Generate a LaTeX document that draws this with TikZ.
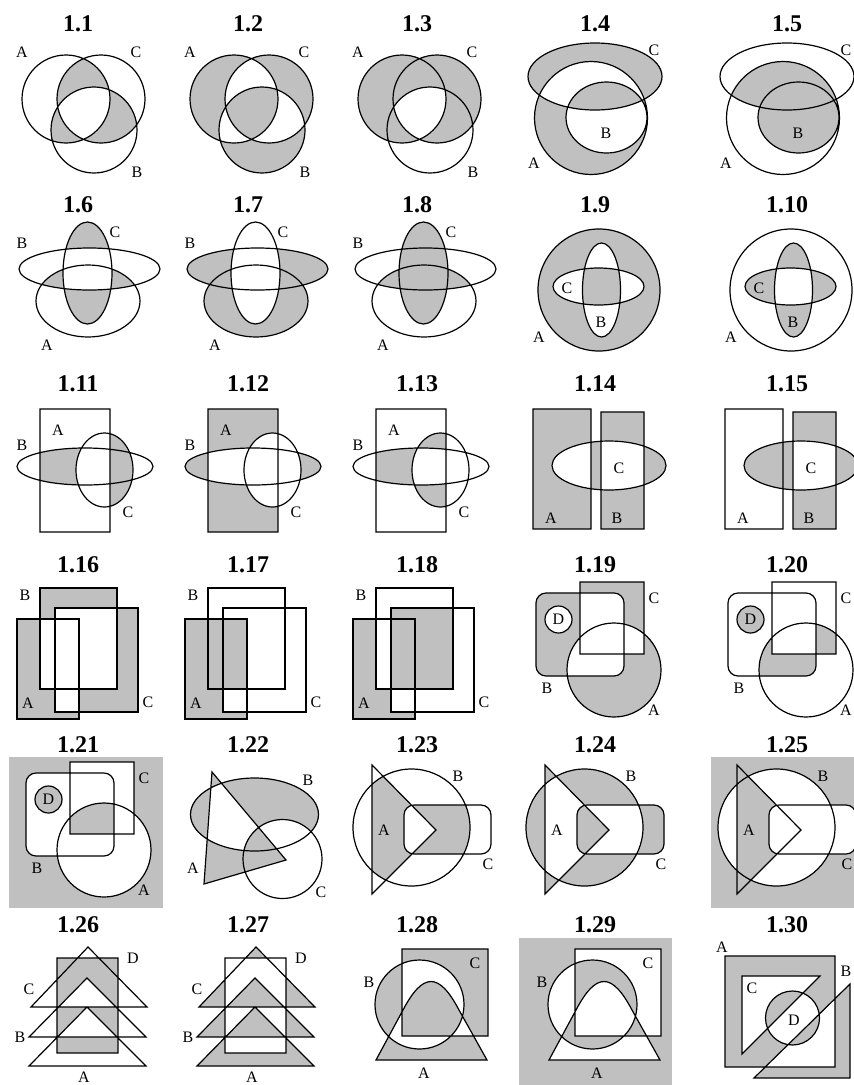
\documentclass[tikz,border=0pt]{standalone}
\usepackage{fontspec}
\setmainfont{Liberation Serif}
\usepackage{tikz}
\definecolor{silver}{RGB}{192,192,192}
% fill the common part of two (or three) shapes
\newcommand{\pairfill}[3]{\begin{scope}\clip #1;\fill[#3] #2;\end{scope}}
\newcommand{\triofill}[4]{\begin{scope}\clip #1;\clip #2;\fill[#4] #3;\end{scope}}

\begin{document}
\begin{tikzpicture}[x=1pt,y=-1pt,
    venn/.style={draw,line width=1.2pt},
    shade/.style={fill=silver},
    blank/.style={fill=white},
    lbl/.style={font=\fontsize{16}{16}\selectfont,inner sep=0pt},
    ttl/.style={font=\fontsize{24}{24}\selectfont\bfseries,anchor=base,inner sep=0pt}]
  \useasboundingbox (0,0) rectangle (854,1085);
  \fill[white] (0,0) rectangle (854,1085);
  % shaded universes
  \fill[shade] (9,757) rectangle (163,908);
  \fill[shade] (711,757) rectangle (860,908);
  \fill[shade] (519,938) rectangle (672,1085);

  % titles
  \foreach \y [count=\r from 0] in {31,212,391,572,752,932}
    \foreach \x [count=\c] in {78,248,417,595,787}{
      \pgfmathtruncatemacro\n{5*\r+\c}
      \node[ttl] (t\n) at (\x,\y) {1.\n};
    }

  % row 1: 1.1 - 1.3
  \begin{scope}
    \def\sA{(66,99) circle[radius=44pt]}
    \def\sC{(101,99) circle[radius=44pt]}
    \def\sB{(94,130) circle[radius=43pt]}
    \pairfill{\sA}{\sC}{shade}
    \pairfill{\sA}{\sB}{shade}
    \pairfill{\sB}{\sC}{shade}
    \triofill{\sA}{\sB}{\sC}{blank}
    \draw[venn] \sA \sB \sC;
    \node[lbl] (a1) at (22,52) {A};
    \node[lbl] (c1) at (136,52) {C};
    \node[lbl] (b1) at (137,172) {B};
    \begin{scope}[xshift=168]
      \fill[shade,even odd rule] \sA \sB \sC;
      \draw[venn] \sA \sB \sC;
      \node[lbl] (a2) at (22,52) {A};
      \node[lbl] (c2) at (136,52) {C};
      \node[lbl] (b2) at (137,172) {B};
    \end{scope}
    \begin{scope}[xshift=336]
      \fill[shade] \sA; \fill[shade] \sC;
      \triofill{\sA}{\sB}{\sC}{blank}
      \draw[venn] \sA \sB \sC;
      \node[lbl] (a3) at (22,52) {A};
      \node[lbl] (c3) at (136,52) {C};
      \node[lbl] (b3) at (137,172) {B};
    \end{scope}
  \end{scope}

  % row 1: 1.4 - 1.5
  \begin{scope}
    \def\sC{(595,76.5) ellipse[x radius=67pt,y radius=33.5pt]}
    \def\sA{(591,118) circle[radius=56.5pt]}
    \def\sB{(606.5,117.5) ellipse[x radius=40.5pt,y radius=35.5pt]}
    \fill[shade,even odd rule] \sA \sB \sC;
    \draw[venn] \sA \sB \sC;
    \node[lbl] (c4) at (654,50) {C};
    \node[lbl] (b4) at (606,133) {B};
    \node[lbl] (a4) at (534,163) {A};
    \begin{scope}[xshift=192]
      \pairfill{\sA}{\sC}{shade}
      \fill[shade] \sB;
      \draw[venn] \sA \sB \sC;
      \node[lbl] (c5) at (654,50) {C};
      \node[lbl] (b5) at (606,133) {B};
      \node[lbl] (a5) at (534,163) {A};
    \end{scope}
  \end{scope}

  % row 2: 1.6 - 1.8
  \begin{scope}
    \def\sB{(89.5,269) ellipse[x radius=70.5pt,y radius=21pt]}
    \def\sC{(87.5,273) ellipse[x radius=24.5pt,y radius=51pt]}
    \def\sA{(88,301) ellipse[x radius=52pt,y radius=36pt]}
    \fill[shade] \sC;
    \pairfill{\sA}{\sB}{shade}
    \pairfill{\sB}{\sC}{blank}
    \draw[venn] \sA \sB \sC;
    \node[lbl] (b6) at (22,243) {B};
    \node[lbl] (c6) at (115,232) {C};
    \node[lbl] (a6) at (47,345) {A};
    \begin{scope}[xshift=168]
      \fill[shade] \sA; \fill[shade] \sB;
      \fill[blank] \sC;
      \draw[venn] \sA \sB \sC;
      \node[lbl] (b7) at (22,243) {B};
      \node[lbl] (c7) at (115,232) {C};
      \node[lbl] (a7) at (47,345) {A};
    \end{scope}
    \begin{scope}[xshift=336]
      \fill[shade] \sC;
      \pairfill{\sA}{\sB}{shade}
      \draw[venn] \sA \sB \sC;
      \node[lbl] (b8) at (22,243) {B};
      \node[lbl] (c8) at (115,232) {C};
      \node[lbl] (a8) at (47,345) {A};
    \end{scope}
  \end{scope}

  % row 2: 1.9 - 1.10
  \begin{scope}
    \def\sA{(599,290) circle[radius=61pt]}
    \def\sC{(598.5,286.5) ellipse[x radius=45.5pt,y radius=18.5pt]}
    \def\sB{(601.5,290) ellipse[x radius=19pt,y radius=47pt]}
    \fill[shade,even odd rule] \sA \sB \sC;
    \draw[venn] \sA \sB \sC;
    \node[lbl] (c9) at (567,288) {C};
    \node[lbl] (b9) at (601,322) {B};
    \node[lbl] (a9) at (539,337) {A};
    \begin{scope}[xshift=192]
      \fill[shade,even odd rule] \sB \sC;
      \draw[venn] \sA \sB \sC;
      \node[lbl] (c10) at (567,288) {C};
      \node[lbl] (b10) at (601,322) {B};
      \node[lbl] (a10) at (539,337) {A};
    \end{scope}
  \end{scope}

  % row 3: 1.11 - 1.13
  \begin{scope}
    \def\sA{(40,409) rectangle (110,532)}
    \def\sB{(85,466.5) ellipse[x radius=68pt,y radius=18.5pt]}
    \def\sC{(104.5,470) ellipse[x radius=28.5pt,y radius=37pt]}
    \fill[shade] \sC;
    \pairfill{\sA}{\sB}{shade}
    \pairfill{\sA}{\sC}{blank}
    \draw[venn] \sA \sB \sC;
    \node[lbl] (a11) at (58,430) {A};
    \node[lbl] (b11) at (22,445) {B};
    \node[lbl] (c11) at (128,512) {C};
    \begin{scope}[xshift=168]
      \fill[shade] \sA; \fill[shade] \sB;
      \pairfill{\sA}{\sB}{blank}
      \fill[blank] \sC;
      \draw[venn] \sA \sB \sC;
      \node[lbl] (a12) at (58,430) {A};
      \node[lbl] (b12) at (22,445) {B};
      \node[lbl] (c12) at (128,512) {C};
    \end{scope}
    \begin{scope}[xshift=336]
      \begin{scope}
        \clip \sA;
        \fill[shade,even odd rule] \sB \sC;
      \end{scope}
      \draw[venn] \sA \sB \sC;
      \node[lbl] (a13) at (58,430) {A};
      \node[lbl] (b13) at (22,445) {B};
      \node[lbl] (c13) at (128,512) {C};
    \end{scope}
  \end{scope}

  % row 3: 1.14 - 1.15
  \begin{scope}
    \def\sA{(533,409) rectangle (591,529)}
    \def\sB{(601,412) rectangle (644,529)}
    \def\sC{(609,465.5) ellipse[x radius=57pt,y radius=24.5pt]}
    \fill[shade,even odd rule] \sA \sB \sC;
    \draw[venn] \sA \sB \sC;
    \node[lbl] (a14) at (551,518) {A};
    \node[lbl] (b14) at (617,518) {B};
    \node[lbl] (c14) at (619,468) {C};
    \begin{scope}[xshift=192]
      \fill[shade,even odd rule] \sB \sC;
      \draw[venn] \sA \sB \sC;
      \node[lbl] (a15) at (551,518) {A};
      \node[lbl] (b15) at (617,518) {B};
      \node[lbl] (c15) at (619,468) {C};
    \end{scope}
  \end{scope}

  % row 4: 1.16 - 1.18
  \begin{scope}
    \def\sB{(40,588) rectangle (117,689)}
    \def\sC{(55,608) rectangle (138,712)}
    \def\sA{(17,619) rectangle (79,719)}
    \fill[shade] \sA; \fill[shade] \sB; \fill[shade] \sC;
    \pairfill{\sA}{\sB}{blank}
    \pairfill{\sA}{\sC}{blank}
    \pairfill{\sB}{\sC}{blank}
    \draw[venn] \sA \sB \sC;
    \node[lbl] (b16) at (25,595) {B};
    \node[lbl] (a16) at (28,703) {A};
    \node[lbl] (c16) at (148,702) {C};
    \begin{scope}[xshift=168]
      \fill[shade] \sA;
      \pairfill{\sA}{\sC}{blank}
      \triofill{\sA}{\sB}{\sC}{shade}
      \draw[venn] \sA \sB \sC;
      \node[lbl] (b17) at (25,595) {B};
      \node[lbl] (a17) at (28,703) {A};
      \node[lbl] (c17) at (148,702) {C};
    \end{scope}
    \begin{scope}[xshift=336]
      \fill[shade] \sA;
      \pairfill{\sA}{\sB}{blank}
      \pairfill{\sA}{\sC}{blank}
      \pairfill{\sB}{\sC}{shade}
      \draw[venn] \sA \sB \sC;
      \node[lbl] (b18) at (25,595) {B};
      \node[lbl] (a18) at (28,703) {A};
      \node[lbl] (c18) at (148,702) {C};
    \end{scope}
  \end{scope}

  % 1.19 - 1.21
  \begin{scope}
    \def\sB{{[rounded corners=10pt] (536,593) rectangle (624,676)}}
    \def\sC{(580,582) rectangle (644,654)}
    \def\sA{(614,670) circle[radius=47pt]}
    \def\sD{(558.5,619.5) circle[radius=13.5pt]}
    \fill[shade] \sA; \fill[shade] \sB; \fill[shade] \sC;
    \pairfill{\sA}{\sB}{blank}
    \pairfill{\sA}{\sC}{blank}
    \pairfill{\sB}{\sC}{blank}
    \fill[blank] \sD;
    \draw[venn] \sA \sC \sD \sB;
    \node[lbl] (c19) at (654,598) {C};
    \node[lbl] (b19) at (547,688) {B};
    \node[lbl] (a19) at (654,710) {A};
    \node[lbl] (d19) at (558.5,619.5) {D};
    \begin{scope}[xshift=192]
      \fill[shade] \sD;
      \begin{scope}
        \clip \sA;
        \fill[shade,even odd rule] \sB \sC;
      \end{scope}
      \draw[venn] \sA \sC \sD \sB;
      \node[lbl] (c20) at (654,598) {C};
      \node[lbl] (b20) at (547,688) {B};
      \node[lbl] (a20) at (654,710) {A};
      \node[lbl] (d20) at (558.5,619.5) {D};
    \end{scope}
    \begin{scope}[shift={(-510,180)}]
      \fill[blank] \sA; \fill[blank] \sB; \fill[blank] \sC;
      \triofill{\sA}{\sB}{\sC}{shade}
      \fill[shade] \sD;
      \draw[venn] \sA \sC \sD \sB;
      \node[lbl] (c21) at (654,598) {C};
      \node[lbl] (b21) at (547,688) {B};
      \node[lbl] (a21) at (654,710) {A};
      \node[lbl] (d21) at (558.5,619.5) {D};
    \end{scope}
  \end{scope}

  % 1.22
  \begin{scope}
    \def\sB{(254.5,814.5) ellipse[x radius=64pt,y radius=36.5pt]}
    \def\sA{(212,772) -- (204,884) -- (286,860) -- cycle}
    \def\sC{(282.5,859) circle[radius=39.5pt]}
    \fill[shade] \sA; \fill[shade] \sB;
    \pairfill{\sA}{\sB}{blank}
    \pairfill{\sB}{\sC}{blank}
    \triofill{\sA}{\sB}{\sC}{shade}
    \draw[venn] \sA \sB \sC;
    \node[lbl] (b22) at (308,780) {B};
    \node[lbl] (a22) at (193,868) {A};
    \node[lbl] (c22) at (321,892) {C};
  \end{scope}

  % 1.23 - 1.25
  \begin{scope}
    \def\sA{(545,765) -- (545,894) -- (609,830) -- cycle}
    \def\sB{(584.5,827.5) circle[radius=58.5pt]}
    \def\sC{{[rounded corners=10pt] (577,805) rectangle (664,854)}}
    \fill[shade,even odd rule] \sA \sB \sC;
    \draw[venn] \sA \sB \sC;
    \node[lbl] (b24) at (631,776) {B};
    \node[lbl] (a24) at (557,830) {A};
    \node[lbl] (c24) at (661,864) {C};
    \begin{scope}[xshift=-173]
      \begin{scope}
        \clip \sB;
        \fill[shade,even odd rule] \sA \sC;
      \end{scope}
      \draw[venn] \sA \sB \sC;
      \node[lbl] (b23) at (631,776) {B};
      \node[lbl] (a23) at (557,830) {A};
      \node[lbl] (c23) at (661,864) {C};
    \end{scope}
    \begin{scope}[xshift=192]
      \fill[blank] \sB;
      \fill[shade] \sA;
      \fill[blank] \sC;
      \draw[venn] \sA \sB \sC;
      \node[lbl] (b25) at (631,776) {B};
      \node[lbl] (a25) at (557,830) {A};
      \node[lbl] (c25) at (655,864) {C};
    \end{scope}
  \end{scope}

  % row 6: 1.26 - 1.27
  \begin{scope}
    \def\sD{(57,958) rectangle (118,1053)}
    \def\sC{(88,947) -- (31,1007) -- (147,1007) -- cycle}
    \def\sB{(87,978) -- (29,1037) -- (146,1037) -- cycle}
    \def\sA{(87,1007) -- (29,1066) -- (146,1066) -- cycle}
    \fill[shade] \sD;
    \pairfill{\sA}{\sB}{blank}
    \pairfill{\sB}{\sC}{blank}
    \draw[venn] \sA \sB \sC \sD;
    \node[lbl] (d26) at (133,958) {D};
    \node[lbl] (c26) at (29,989) {C};
    \node[lbl] (b26) at (20,1037) {B};
    \node[lbl] (a26) at (84,1077) {A};
    \begin{scope}[xshift=168]
      \fill[shade] \sA; \fill[shade] \sB; \fill[shade] \sC;
      \fill[blank] \sD;
      \pairfill{\sA}{\sB}{shade}
      \pairfill{\sB}{\sC}{shade}
      \draw[venn] \sA \sB \sC \sD;
      \node[lbl] (d27) at (133,958) {D};
      \node[lbl] (c27) at (29,989) {C};
      \node[lbl] (b27) at (20,1037) {B};
      \node[lbl] (a27) at (84,1077) {A};
    \end{scope}
  \end{scope}

  % 1.28 - 1.29
  \begin{scope}
    \def\sB{(592.5,1004.5) circle[radius=44.5pt]}
    \def\sC{(575,949) rectangle (661,1036)}
    \def\sA{(549,1060) -- (576,1010) .. controls (596,972) and (612,972) .. (632,1010) -- (660,1060) -- cycle}
    \fill[blank,even odd rule] \sA \sB \sC;
    \draw[venn] \sA \sB \sC;
    \node[lbl] (b29) at (542,982) {B};
    \node[lbl] (c29) at (648,963) {C};
    \node[lbl] (a29) at (597,1073) {A};
    \begin{scope}[xshift=-173]
      \fill[shade,even odd rule] \sA \sB \sC;
      \draw[venn] \sA \sB \sC;
      \node[lbl] (b28) at (542,982) {B};
      \node[lbl] (c28) at (648,963) {C};
      \node[lbl] (a28) at (597,1073) {A};
    \end{scope}
  \end{scope}

  % 1.30
  \begin{scope}
    \def\sA{(725,956) rectangle (835,1067)}
    \def\sC{(742,976) -- (820,976) -- (742,1054) -- cycle}
    \def\sB{(850,984) -- (850,1078) -- (754,1078) -- cycle}
    \def\sD{(792.5,1018) circle[radius=27pt]}
    \fill[shade,even odd rule] \sA \sB \sC \sD;
    \draw[venn] \sA \sB \sC \sD;
    \node[lbl] (a30) at (722,947) {A};
    \node[lbl] (c30) at (752,988) {C};
    \node[lbl] (d30) at (794,1020) {D};
    \node[lbl] (b30) at (846,971) {B};
  \end{scope}
\end{tikzpicture}
\end{document}
